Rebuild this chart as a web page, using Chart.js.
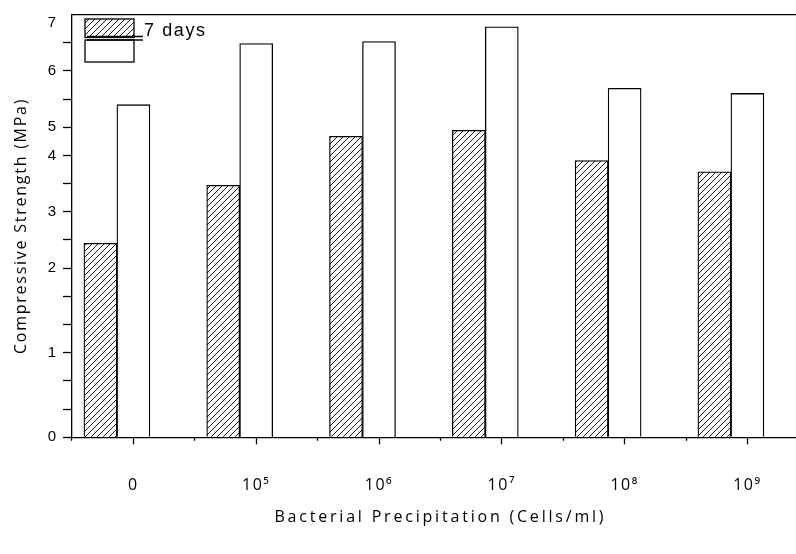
<!DOCTYPE html>
<html>
<head>
<meta charset="utf-8">
<script src="https://cdn.jsdelivr.net/npm/chart.js@4.4.1/dist/chart.umd.min.js"></script>
<style>
  html, body { margin: 0; padding: 0; background: #fff; overflow: hidden; }
  #wrap { position: absolute; left: 0; top: 0; width: 812px; height: 554px; }
</style>
</head>
<body>
<div id="wrap"><canvas id="chart" width="812" height="554"></canvas></div>
<script>
// Bacterial concentration groups (cells/ml)
const categories = ['0', '10\u2075', '10\u2076', '10\u2077', '10\u2078', '10\u2079'];

// Compressive strength, MPa
const strength7d    = [2.44, 3.47, 4.68, 4.89, 3.91, 3.71];
const strengthOther = [5.40, 6.57, 6.61, 6.92, 5.69, 5.60];
const seriesLabels  = ['7 days', ''];

// Printed y-axis labels (MPa) and the tick step each one sits on
const yTickLabels = [0, 1, 2, 3, 4, 5, 6, 7];
const yLabelSteps = [0, 3, 6, 8, 10, 11, 13, 14.7];
const yTotalSteps = 15;

// piecewise-linear conversion between MPa and tick steps
function lerpTable(from, to, x) {
  let i = 0;
  while (i < from.length - 2 && x > from[i + 1]) i++;
  const t = (x - from[i]) / (from[i + 1] - from[i]);
  return to[i] + t * (to[i + 1] - to[i]);
}
const mpaToStep = v => lerpTable(yTickLabels, yLabelSteps, v);
const stepToMpa = s => lerpTable(yLabelSteps, yTickLabels, s);

// value axis whose printed labels are unevenly spaced over evenly spaced tick marks
const LinearBase = Chart.LinearScale || Chart.registry.getScale('linear');
class SteppedScale extends LinearBase {
  buildTicks() {
    this.min = stepToMpa(0);
    this.max = stepToMpa(yTotalSteps);
    const list = [];
    for (let s = 0; s <= yTotalSteps; s++) list.push({ step: s, mark: s < yTotalSteps, lbl: '' });
    yTickLabels.forEach((v, i) => {
      const s = yLabelSteps[i];
      const hit = list.find(t => Math.abs(t.step - s) < 1e-6);
      if (hit) hit.lbl = String(v);
      else list.push({ step: s, mark: false, lbl: String(v) });
    });
    list.sort((a, b) => a.step - b.step);
    return list.map(t => ({ value: stepToMpa(t.step), mark: t.mark, lbl: t.lbl }));
  }
  getPixelForValue(value) {
    if (value === null || value === undefined || isNaN(value)) return NaN;
    return this.getPixelForDecimal(mpaToStep(value) / yTotalSteps);
  }
  getValueForPixel(pixel) {
    return stepToMpa(this.getDecimalForPixel(pixel) * yTotalSteps);
  }
}
SteppedScale.id = 'stepped';
SteppedScale.defaults = LinearBase.defaults;
Chart.register(SteppedScale);

const canvas = document.getElementById('chart');
const ctx = canvas.getContext('2d');

// diagonal hatching fill
function hatchPattern() {
  const t = document.createElement('canvas');
  t.width = 6; t.height = 6;
  const g = t.getContext('2d');
  g.fillStyle = '#fff';
  g.fillRect(0, 0, 6, 6);
  g.strokeStyle = '#000';
  g.lineWidth = 0.9;
  g.beginPath();
  g.moveTo(0, 6); g.lineTo(6, 0);
  g.moveTo(-1, 1); g.lineTo(1, -1);
  g.moveTo(5, 7); g.lineTo(7, 5);
  g.stroke();
  return ctx.createPattern(t, 'repeat');
}
const hatch = hatchPattern();

const SANS = "'Open Sans', 'Noto Sans', sans-serif";
const ARIAL = "'Liberation Sans', Arial, sans-serif";
const BAR_W = 33;
const SHIFT = 0.2687; // hatched bar sits one bar-width left of each category centre

// slightly expanded lettering for chart text; axis titles get their own spacing
const titleSpacing = { x: '2.8px', y: '1.75px' };
const textSpacing = {
  id: 'textSpacing',
  beforeDraw(chart) {
    chart.ctx.letterSpacing = '1.5px';
    Object.keys(titleSpacing).forEach(id => {
      const s = chart.scales[id];
      if (!s || s._spacedTitle) return;
      const draw = s.drawTitle;
      s.drawTitle = function () {
        const c = this.ctx, prev = c.letterSpacing;
        c.letterSpacing = titleSpacing[id];
        draw.apply(this, arguments);
        c.letterSpacing = prev;
      };
      s._spacedTitle = true;
    });
  },
  afterDraw(chart) { chart.ctx.letterSpacing = '0px'; }
};

// key box in the upper-left corner of the plot
const seriesKey = {
  id: 'seriesKey',
  afterDraw(chart) {
    const c = chart.ctx;
    const ds = chart.data.datasets;
    const x = 85, w = 49;
    const rows = [{ y: 19, h: 18.5 }, { y: 40, h: 22 }];
    c.save();
    c.letterSpacing = '1.6px';
    ds.forEach((d, i) => {
      const r = rows[i];
      c.fillStyle = d.backgroundColor;
      c.fillRect(x, r.y, w, r.h);
      c.lineWidth = 1.3;
      c.strokeStyle = '#000';
      c.strokeRect(x, r.y, w, r.h);
      c.beginPath();
      c.moveTo(87, i === 0 ? 36.5 : 40);
      c.lineTo(143, i === 0 ? 36.5 : 40);
      c.stroke();
      if (d.label) {
        c.fillStyle = '#000';
        c.font = '18px ' + ARIAL;
        c.textBaseline = 'alphabetic';
        c.textAlign = 'left';
        c.fillText(d.label, 144, 35.5);
      }
    });
    c.restore();
  }
};

new Chart(ctx, {
  type: 'bar',
  data: {
    labels: categories,
    datasets: [
      {
        label: seriesLabels[0],
        data: strength7d.map((v, i) => ({ x: i, y: v })),
        xAxisID: 'xShift',
        grouped: false,
        backgroundColor: hatch,
        borderColor: '#000',
        borderWidth: 1.3,
        barThickness: BAR_W
      },
      {
        label: seriesLabels[1],
        data: strengthOther,
        xAxisID: 'x',
        grouped: false,
        backgroundColor: '#fff',
        borderColor: '#000',
        borderWidth: 1.3,
        barThickness: BAR_W
      }
    ]
  },
  options: {
    responsive: false,
    animation: false,
    devicePixelRatio: 1,
    layout: { padding: { left: 0, top: 12.3, right: 3.2, bottom: 0 } },
    plugins: { legend: { display: false }, tooltip: { enabled: false } },
    scales: {
      x: {
        type: 'category',
        position: 'bottom',
        offset: true,
        weight: 1,
        grid: { offset: false, drawOnChartArea: false, tickLength: 7, tickWidth: 1.3, tickColor: '#000' },
        border: { display: true, color: '#000', width: 1.3 },
        ticks: { color: '#000', font: { family: SANS, size: 16 }, padding: 32, maxRotation: 0, autoSkip: false },
        title: {
          display: true,
          text: 'Bacterial Precipitation (Cells/ml)',
          color: '#000',
          font: { family: SANS, size: 16 },
          padding: { top: 0, bottom: 27 }
        },
        afterFit: s => { s.height = 116.7; }
      },
      xBounds: {
        type: 'category',
        position: 'bottom',
        offset: true,
        weight: 0,
        grid: { offset: true, drawOnChartArea: false, tickLength: 3.5, tickWidth: 1.3, tickColor: '#000' },
        border: { display: false },
        ticks: { display: false },
        afterFit: s => { s.height = 0; }
      },
      xTop: {
        type: 'category',
        position: 'top',
        grid: { display: false },
        border: { display: true, color: '#000', width: 1.3 },
        ticks: { display: false },
        afterFit: s => { s.height = 0; }
      },
      xShift: {
        type: 'linear',
        display: false,
        offset: false,
        min: -0.5 + SHIFT,
        max: categories.length - 0.5 + SHIFT
      },
      y: {
        type: 'stepped',
        position: 'left',
        grid: {
          drawOnChartArea: false,
          tickLength: 9,
          tickWidth: 1.3,
          tickColor: c => (c.tick && c.tick.mark) ? '#000' : 'rgba(0,0,0,0)'
        },
        border: { display: true, color: '#000', width: 1.3 },
        ticks: {
          autoSkip: false,
          color: '#000',
          font: { family: ARIAL, size: 15 },
          padding: 5.5,
          callback: (v, i, ticks) => ticks[i].lbl
        },
        title: {
          display: true,
          text: 'Compressive Strength (MPa)',
          color: '#000',
          font: { family: SANS, size: 16 },
          padding: { top: 12, bottom: 0 }
        },
        afterFit: s => { s.width = 72; }
      }
    }
  },
  plugins: [textSpacing, seriesKey]
});
</script>
</body>
</html>
